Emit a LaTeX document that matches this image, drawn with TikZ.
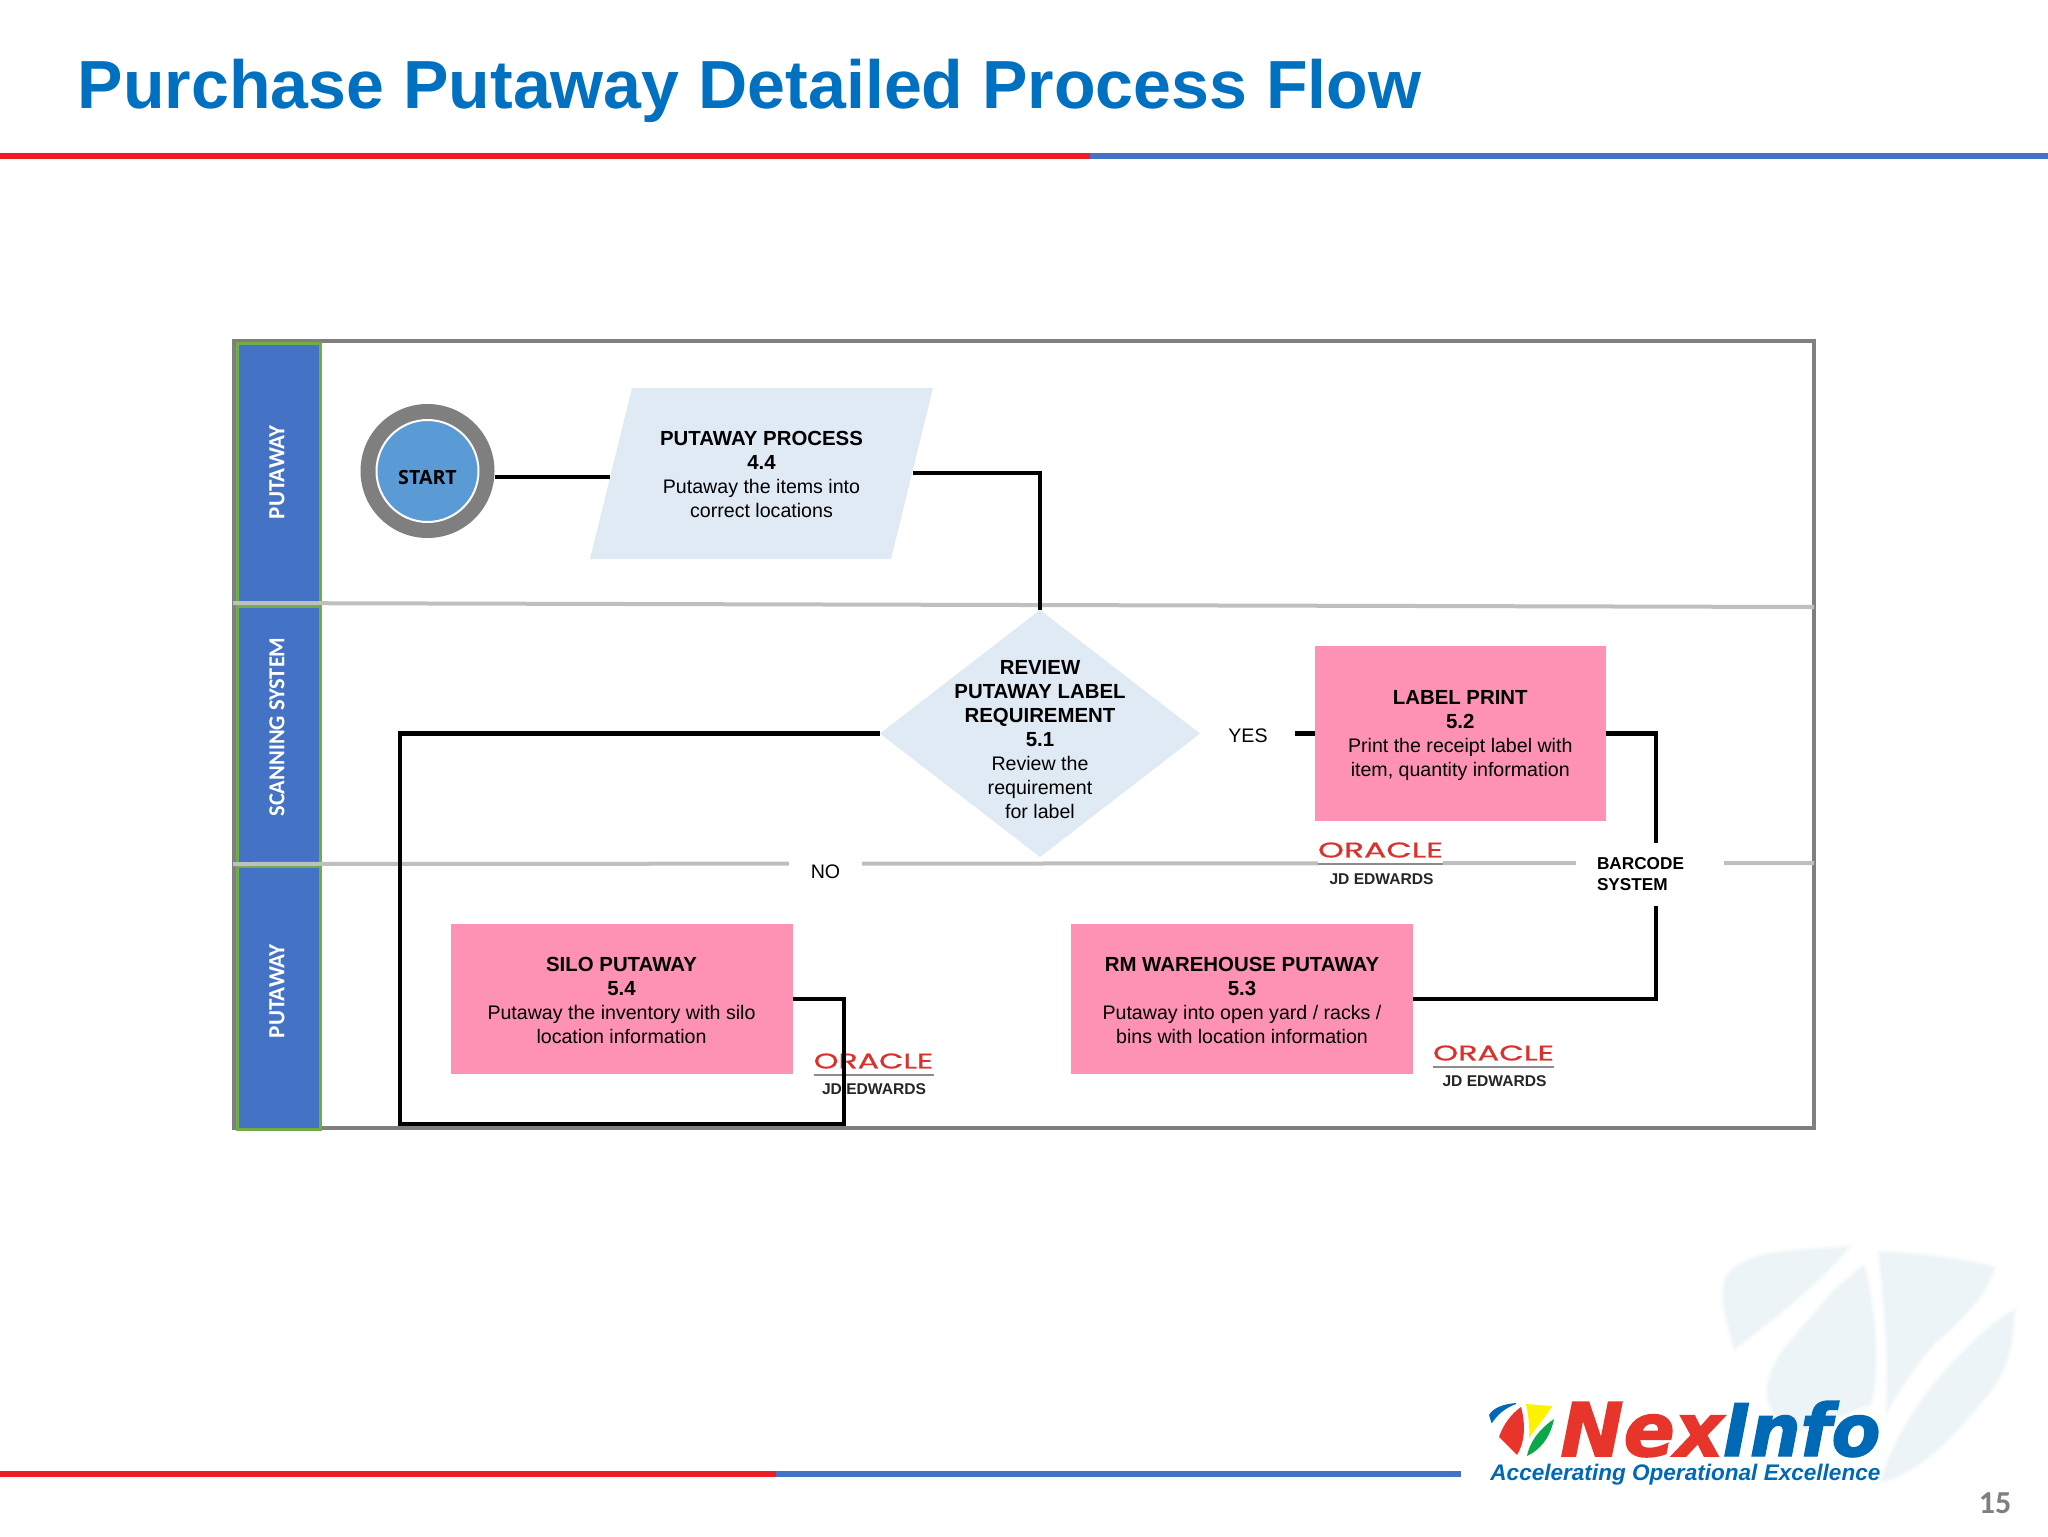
\documentclass[tikz,border=0pt]{standalone}
\usepackage{fontspec}
\usepackage{graphicx}
\setmainfont{Liberation Sans}
\newfontfamily\carl{Carlito}
\newfontfamily\osans{Open Sans}
\newfontfamily\nexfont[BoldItalicFeatures={FakeBold=2}]{DejaVu Sans}
\newfontfamily\pop[UprightFeatures={FakeBold=0.6}]{Poppins}
\usetikzlibrary{shapes.geometric}
\definecolor{titleblue}{HTML}{0070C0}
\definecolor{rulered}{HTML}{EE1C25}
\definecolor{ruleblue}{HTML}{4472C4}
\definecolor{lanegreen}{HTML}{70AD47}
\definecolor{framegrey}{HTML}{7F7F7F}
\definecolor{divgrey}{HTML}{BFBFBF}
\definecolor{paleblue}{HTML}{DFEAF5}
\definecolor{boxpink}{HTML}{FD92B5}
\definecolor{startblue}{HTML}{5B9BD5}
\definecolor{orared}{HTML}{D9322E}
\definecolor{nexred}{HTML}{E8352B}
\definecolor{infoblue}{HTML}{0069B6}
\definecolor{wmark}{HTML}{EDF4F7}
\definecolor{markyellow}{HTML}{FFF200}
\definecolor{markgreen}{HTML}{0BA84A}
\newcommand\hd[1]{{\fontsize{10.2}{12}\selectfont\bfseries #1}}
\newcommand\wmdraw[1]{%
\path[#1] (1735,1347) .. controls (1725,1310) and (1722,1300) .. (1726,1280) .. controls (1740,1250) and (1800,1252) .. (1847,1248) .. controls (1810,1290) and (1770,1320) .. (1735,1347) -- cycle;
\path[#1] (1768,1393) .. controls (1770,1360) and (1790,1345) .. (1833,1293) -- (1863,1267) .. controls (1875,1310) and (1878,1370) .. (1870,1403) -- (1800,1430) .. controls (1780,1425) and (1770,1410) .. (1768,1393) -- cycle;
\path[#1] (1880,1253) .. controls (1930,1255) and (1970,1262) .. (1993,1268) .. controls (1985,1295) and (1960,1320) .. (1933,1343) .. controls (1910,1370) and (1895,1395) .. (1888,1407) .. controls (1890,1350) and (1885,1300) .. (1880,1253) -- cycle;
\path[#1] (2013,1312) .. controls (2010,1360) and (2005,1375) .. (1967,1417) .. controls (1935,1455) and (1905,1475) .. (1883,1480) .. controls (1890,1450) and (1915,1410) .. (1933,1387) .. controls (1960,1355) and (1990,1325) .. (2013,1312) -- cycle;}
\tikzset{
  rulebar/.style={line width=3pt},
  lane/.style={draw=lanegreen,fill=ruleblue,line width=1.5pt},
  lanetext/.style={rotate=90,text=white,inner sep=0pt,font=\carl\bfseries},
  divider/.style={draw=divgrey,line width=2pt},
  conn/.style={draw=black,line width=2.2pt,miter limit=10},
  body/.style={align=center,inner sep=0pt,outer sep=0pt,font=\fontsize{9.8}{12}\selectfont},
  pinkbox/.style={fill=boxpink,rectangle,inner sep=0pt,outer sep=0pt},
  cover/.style={fill=white,inner sep=0pt,outer sep=0pt,font=\fontsize{9.8}{12}\selectfont},
  oralogo/.style={inner sep=0pt,text=orared,font=\pop},
  jdtext/.style={inner sep=0pt,font=\fontsize{7.8}{10}\selectfont\bfseries,text=black!85},
  oraline/.style={draw=black!45,line width=.8pt},
}
\begin{document}
\begin{tikzpicture}[x=0.5pt,y=-0.5pt]
\useasboundingbox (0,0) rectangle (2048,1536);
\fill[white] (0,0) rectangle (2048,1536);
% watermark
\wmdraw{draw=wmark!25,line width=3.5pt}
\wmdraw{draw=wmark!50,line width=2.2pt}
\wmdraw{draw=wmark!75,line width=1pt}
\wmdraw{fill=wmark}
% title and rules
\node[anchor=base west,inner sep=0pt,text=titleblue,font=\fontsize{34.05}{40}\selectfont\bfseries] (title) at (77.5,109) {Purchase Putaway Detailed Process Flow};
\draw[rulebar,rulered] (0,155.5) -- (1090,155.5);
\draw[rulebar,ruleblue] (1090,155.5) -- (2048,155.5);
\draw[rulebar,rulered] (0,1474) -- (776,1474);
\draw[rulebar,ruleblue] (776,1474) -- (1461,1474);
% frame
\draw[framegrey,line width=2pt] (234,341) rectangle (1814,1128);
% lanes
\draw[lane] (237,343) rectangle (320,603);
\draw[lane] (237,606) rectangle (320,863);
\draw[lane] (237,866) rectangle (320,1129);
\node[lanetext] (laneA) at (277,472) {\resizebox{47pt}{7.5pt}{PUTAWAY}};
\node[lanetext] (laneB) at (277,727) {\resizebox{89.5pt}{7.5pt}{SCANNING SYSTEM}};
\node[lanetext] (laneC) at (277,991) {\resizebox{47pt}{7.5pt}{PUTAWAY}};
% dividers
\draw[divider] (233,603) -- (1814,607);
\draw[divider] (233,864) -- (1814,863);
% shapes
\fill[paleblue] (632,388) -- (933,388) -- (891,559) -- (590,559) -- cycle;
\coordinate (procW) at (610,477);
\coordinate (procE) at (913,473);
\coordinate (startE) at (495,477);
\node[body] (proc) at (761.5,474) {\hd{PUTAWAY PROCESS}\\\hd{4.4}\\Putaway the items into\\correct locations};
\node[circle,fill=framegrey,inner sep=0pt,outer sep=0pt,minimum size=67pt] (start) at (427.5,471) {};
\node[circle,fill=startblue,draw=white,line width=1pt,inner sep=0pt,minimum size=51pt] (startin) at (427.5,471) {};
\node[inner sep=0pt,font=\osans\bfseries\fontsize{9.8}{11}\selectfont] (startlbl) at (427.5,477) {START};
\node[pinkbox,minimum width=145.25pt,minimum height=87.5pt] (lp) at (1460.25,733.5) {};
\node[body] (lptxt) at (1460.25,735.5) {\hd{LABEL PRINT}\\\hd{5.2}\\Print the receipt label with\\item, quantity information};
\node[pinkbox,minimum width=171pt,minimum height=75pt] (rm) at (1242,999) {};
\node[body] (rmtxt) at (1242,1000) {\hd{RM WAREHOUSE PUTAWAY}\\\hd{5.3}\\Putaway into open yard / racks /\\bins with location information};
\node[pinkbox,minimum width=171pt,minimum height=75pt] (silo) at (622,999) {};
\node[body] (silotxt) at (621.5,1000) {\hd{SILO PUTAWAY}\\\hd{5.4}\\Putaway the inventory with silo\\location information};
% oracle logos
\fill[white] (1318,840) rectangle (1443,868);
\node[oralogo] (ora1) at (1380.5,850) {\resizebox{62.5pt}{7.5pt}{ORACLE}};
\draw[oraline] (1318,864) -- (1443,864);
\node[jdtext] (jd1) at (1381.5,879) {JD EDWARDS};
\node[oralogo] (ora2) at (1493.5,1053) {\resizebox{60.5pt}{7.5pt}{ORACLE}};
\draw[oraline] (1433,1067) -- (1554,1067);
\node[jdtext] (jd2) at (1494.5,1081) {JD EDWARDS};
\node[oralogo] (ora3) at (873.5,1061) {\resizebox{59.75pt}{7.5pt}{ORACLE}};
\draw[oraline] (814,1075) -- (933.5,1075);
\node[jdtext] (jd3) at (874,1089) {JD EDWARDS};
% decision shape
\node[diamond,aspect=1.296,fill=paleblue,inner sep=0pt,outer sep=0pt,minimum width=160pt,minimum height=123.5pt] (rev) at (1040,733.5) {};
\node[body] (revtxt) at (1040,739.5) {\hd{REVIEW}\\\hd{PUTAWAY LABEL}\\\hd{REQUIREMENT}\\\hd{5.1}\\Review the\\requirement\\for label};
% label that carries the yes branch
\node[cover,fill=none,minimum width=47pt,minimum height=20pt] (yes) at (1248,736) {YES};
% connectors
\coordinate (procTurn) at (1040,473);
\coordinate (loopBL) at (400,1124);
\coordinate (loopBR) at (844,1124);
\coordinate (bcRun) at (1656,870);
\coordinate (yesE) at (yes.east |- lp.west);
\draw[conn] (startE) -- (procW);
\draw[conn] (procE) -- (procTurn) -- (rev.north);
\draw[conn] (rev.west) -| (loopBL) -- (loopBR) |- (silo.east);
\draw[conn] (yesE) -- (lp.west);
\draw[conn] (lp.east) -| (bcRun) |- (rm.east);
% labels that interrupt lines
\node[cover,minimum width=36.5pt,minimum height=20pt] (no) at (825.5,872) {NO};
\node[cover,anchor=west,inner xsep=10.5pt,text width=53pt,minimum height=31.5pt,align=left,font=\fontsize{8.6}{10.5}\selectfont\bfseries] (barcode) at (1576,874.5) {BARCODE\\SYSTEM};
% NexInfo logo
\fill[infoblue] (1489,1415) .. controls (1493,1408) and (1503,1404) .. (1516,1403) -- (1516,1404) .. controls (1505,1408) and (1497,1415) .. (1492,1423) -- (1491.5,1423) -- cycle;
\fill[nexred] (1521,1407) .. controls (1525,1422) and (1526,1440) .. (1517,1455) -- (1499,1437) .. controls (1503,1425) and (1511,1414) .. (1521,1407) -- cycle;
\fill[markyellow] (1526,1404) -- (1552,1406) .. controls (1545,1418) and (1536,1428) .. (1529,1438) .. controls (1530,1425) and (1528,1414) .. (1526,1404) -- cycle;
\fill[markgreen] (1554,1419) .. controls (1550,1438) and (1540,1450) .. (1527,1456) .. controls (1530,1440) and (1542,1427) .. (1554,1419) -- cycle;
\node[anchor=base west,inner sep=0pt,text=nexred,font=\nexfont\bfseries\itshape] (nex) at (1560,1456) {\resizebox{81.5pt}{27pt}{Nex}};
\node[anchor=base west,inner sep=0pt,text=infoblue,font=\nexfont\bfseries\itshape] (info) at (1723,1456) {\resizebox{78.5pt}{27.5pt}{Info}};
\node[anchor=base west,inner sep=0pt,text=infoblue,font=\bfseries\itshape] (tag) at (1490,1480) {\resizebox{195pt}{!}{Accelerating Operational Excellence}};
\node[inner sep=0pt,text=framegrey,font=\carl\bfseries\fontsize{16}{18}\selectfont] (pagenum) at (1995,1503) {15};
\end{tikzpicture}
\end{document}
